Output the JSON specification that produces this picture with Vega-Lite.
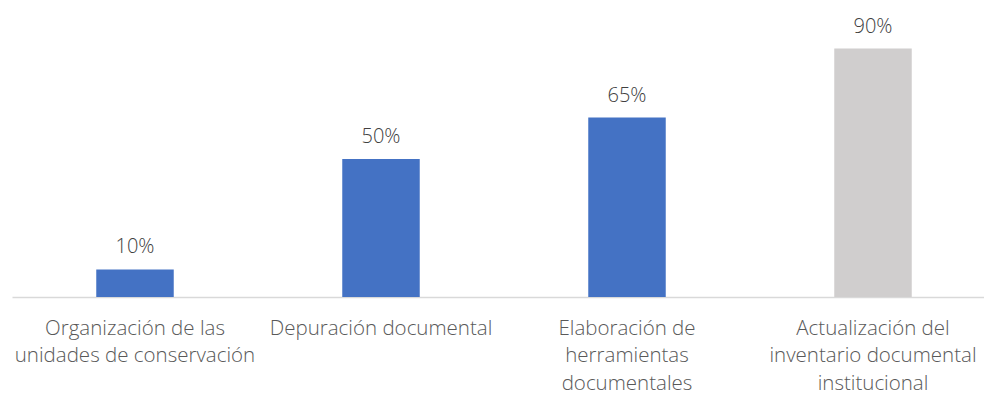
{
  "$schema": "https://vega.github.io/schema/vega-lite/v6.json",
  "autosize": {"type": "none"},
  "width": 972,
  "height": 276,
  "padding": {"left": 12, "top": 21, "right": 0, "bottom": 99},
  "background": "#ffffff",
  "config": {"view": {"stroke": null}, "font": "Open Sans"},
  "data": {
    "values": [
      {"actividad": "Organización de las|unidades de conservación", "avance": 0.10, "estado": "azul"},
      {"actividad": "Depuración documental", "avance": 0.50, "estado": "azul"},
      {"actividad": "Elaboración de|herramientas|documentales", "avance": 0.65, "estado": "azul"},
      {"actividad": "Actualización del|inventario documental|institucional", "avance": 0.90, "estado": "gris"}
    ]
  },
  "encoding": {
    "x": {
      "field": "actividad",
      "type": "nominal",
      "sort": null,
      "scale": {"range": [0, 984], "paddingInner": 0.685, "paddingOuter": 0.3425},
      "axis": {
        "title": null,
        "labelAngle": 0,
        "labelExpr": "split(datum.label, '|')",
        "labelFontSize": 20.5,
        "labelFontWeight": 300,
        "labelColor": "#595959",
        "labelLineHeight": 27.5,
        "labelPadding": 21,
        "labelLimit": 300,
        "ticks": false,
        "domainColor": "#D9D9D9",
        "domainWidth": 1.5
      }
    },
    "y": {
      "field": "avance",
      "type": "quantitative",
      "scale": {"domain": [0, 1]},
      "axis": null
    }
  },
  "layer": [
    {
      "mark": {"type": "bar"},
      "encoding": {
        "color": {
          "field": "estado",
          "type": "nominal",
          "scale": {"domain": ["azul", "gris"], "range": ["#4472C4", "#D0CECE"]},
          "legend": null
        }
      }
    },
    {
      "mark": {"type": "text", "baseline": "alphabetic", "dy": -16, "fontSize": 20, "fontWeight": 300, "color": "#404040"},
      "encoding": {
        "text": {"field": "avance", "type": "quantitative", "format": ".0%"}
      }
    }
  ]
}
